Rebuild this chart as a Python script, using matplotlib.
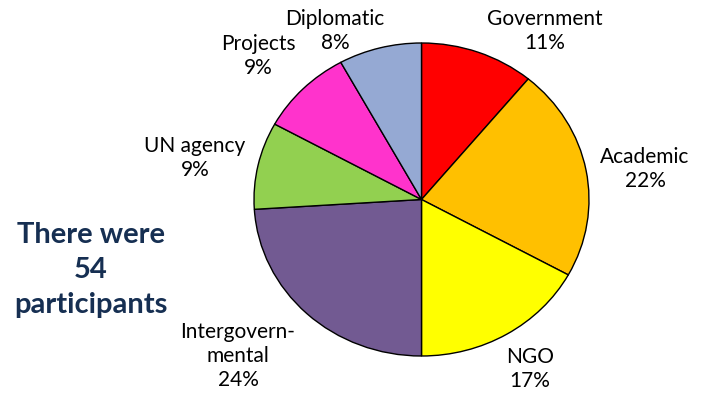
import matplotlib.pyplot as plt

plt.rcParams['font.family'] = ['Lato', 'DejaVu Sans']

labels = ['Government', 'Academic', 'NGO', 'Intergovern-\nmental', 'UN agency', 'Projects', 'Diplomatic']
percents = [11, 22, 17, 24, 9, 9, 8]
colors = ['#FF0000', '#FFC000', '#FFFF00', '#725A92', '#92D050', '#FF33CC', '#95A9D3']
participants = 54

# label centres in pixels (x, y from top)
label_pos = [(545, 31), (645, 169), (530, 369), (238, 356), (195, 158), (258, 56), (335, 31)]

W, H = 701, 394
fig = plt.figure(figsize=(W / 100, H / 100), dpi=100)
ax = fig.add_axes([254 / W, (H - 356) / H, 335 / W, 313 / H])
ax.pie(percents, colors=colors, startangle=90, counterclock=False,
       wedgeprops=dict(edgecolor='black', linewidth=1))
ax.set_aspect('auto')
ax.set_xlim(-1, 1)
ax.set_ylim(-1, 1)
ax.axis('off')

for lab, p, (px, py) in zip(labels, percents, label_pos):
    fig.text(px / W, 1 - py / H, f'{lab}\n{p}%', ha='center', va='center',
             fontsize=15, linespacing=1.22, color='black')

fig.text(91 / W, 1 - 270 / H, 'There were\n{}\nparticipants'.format(participants),
         ha='center', va='center', fontsize=21, fontweight='bold',
         color='#162F52', linespacing=1.44)

fig.savefig('out.png', dpi=100)
